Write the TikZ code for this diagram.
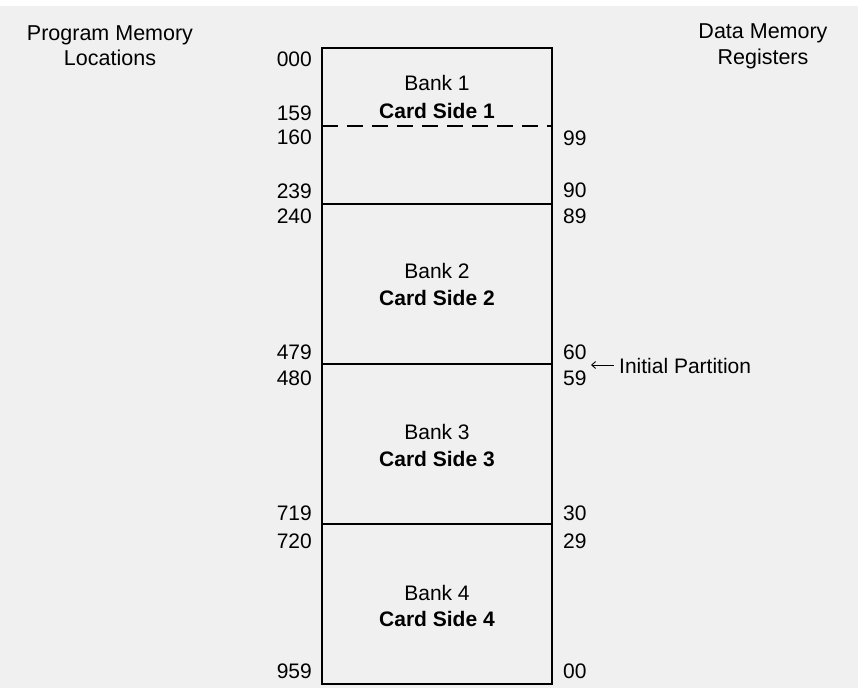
\documentclass[tikz,border=0pt]{standalone}
\usepackage{fontspec}
\setmainfont{Liberation Sans}
\usetikzlibrary{arrows.meta}
\definecolor{paper}{HTML}{F0F0F0}
\begin{document}
\begin{tikzpicture}[x=1pt,y=-1pt,
  every node/.style={inner sep=0pt,font=\fontsize{21}{26}\selectfont},
  addrl/.style={anchor=base east},
  addrr/.style={anchor=base west},
  bankname/.style={anchor=base},
  bankside/.style={anchor=base,font=\fontsize{21}{26}\selectfont\bfseries},
  heading/.style={anchor=base,align=center,font=\fontsize{21.5}{26}\selectfont},
  frame/.style={line width=1.8pt},
  divider/.style={line width=1.8pt},
  dashdiv/.style={line width=1.8pt,dash pattern=on 16pt off 9pt}]
  % page
  \useasboundingbox (0,0) rectangle (858,688);
  \fill[paper] (0,6) rectangle (858,688);
  \fill[white] (0,0) rectangle (858,6);

  % memory column corners and bank boundaries
  \coordinate (tl) at (322,48);
  \coordinate (br) at (552,684);
  \coordinate (d1l) at (322,126); \coordinate (d1r) at (552,126);
  \coordinate (d2l) at (322,204); \coordinate (d2r) at (552,204);
  \coordinate (d3l) at (322,364); \coordinate (d3r) at (552,364);
  \coordinate (d4l) at (322,524); \coordinate (d4r) at (552,524);

  \draw[frame] (tl) rectangle (br);
  \draw[dashdiv] (d1l) -- (d1r);
  \draw[divider] (d2l) -- (d2r);
  \draw[divider] (d3l) -- (d3r);
  \draw[divider] (d4l) -- (d4r);

  % headings
  \node[heading] (hprog1) at (110,40) {Program Memory};
  \node[heading] (hprog2) at (110,65) {Locations};
  \node[heading] (hdata1) at (763,38) {Data Memory};
  \node[heading] (hdata2) at (763,64) {Registers};

  % bank labels
  \node[bankname] (b1) at (437,90) {Bank 1};
  \node[bankside] (s1) at (437,118) {Card Side 1};
  \node[bankname] (b2) at (437,278) {Bank 2};
  \node[bankside] (s2) at (437,305) {Card Side 2};
  \node[bankname] (b3) at (437,439) {Bank 3};
  \node[bankside] (s3) at (437,466) {Card Side 3};
  \node[bankname] (b4) at (437,600) {Bank 4};
  \node[bankside] (s4) at (437,626) {Card Side 4};

  % program memory locations
  \node[addrl] (p000) at (312,66) {000};
  \node[addrl] (p159) at (312,120) {159};
  \node[addrl] (p160) at (312,144) {160};
  \node[addrl] (p239) at (312,198) {239};
  \node[addrl] (p240) at (312,223) {240};
  \node[addrl] (p479) at (312,359) {479};
  \node[addrl] (p480) at (312,385) {480};
  \node[addrl] (p719) at (312,520) {719};
  \node[addrl] (p720) at (312,548) {720};
  \node[addrl] (p959) at (312,678) {959};

  % data memory registers
  \node[addrr] (r99) at (563,145) {99};
  \node[addrr] (r90) at (563,197) {90};
  \node[addrr] (r89) at (563,223) {89};
  \node[addrr] (r60) at (563,359) {60};
  \node[addrr] (r59) at (563,385) {59};
  \node[addrr] (r30) at (563,520) {30};
  \node[addrr] (r29) at (563,548) {29};
  \node[addrr] (r00) at (563,678) {00};

  % partition marker
  \node[anchor=base west] (part) at (619,373) {Initial Partition};
  \coordinate (ptip) at (591,365);
  \draw[line width=0.9pt,{Straight Barb[length=4pt,width=7pt]}-] (ptip) -- ([xshift=-5pt]part.west |- ptip);
\end{tikzpicture}
\end{document}
